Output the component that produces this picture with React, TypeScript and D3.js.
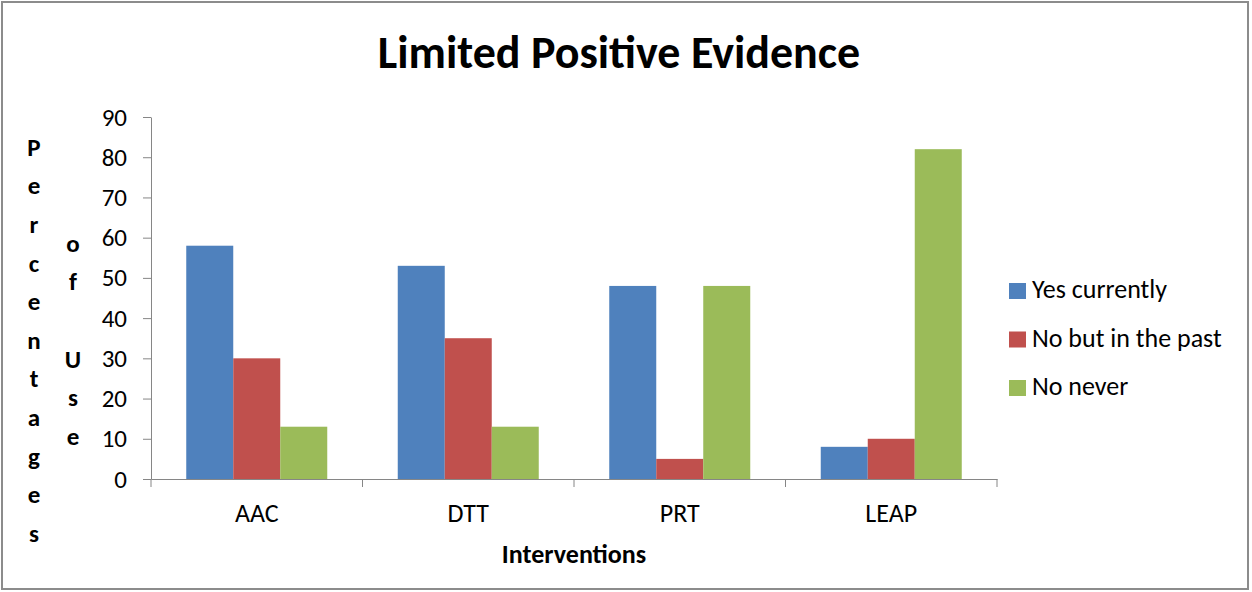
import { useEffect, useRef } from 'react';
import * as d3 from 'd3';

const categories = ['AAC', 'DTT', 'PRT', 'LEAP'];
const seriesNames = ['Yes currently', 'No but in the past', 'No never'];
const yesCurrently = [58, 53, 48, 8];
const noButPast = [30, 35, 5, 10];
const noNever = [13, 13, 48, 82];
const yTicks = [0, 10, 20, 30, 40, 50, 60, 70, 80, 90];
const colors = ['#4F81BD', '#C0504D', '#9BBB59'];

const FONT = "Carlito, Lato, 'Open Sans', sans-serif";

export default function App() {
  const svgRef = useRef<SVGSVGElement>(null);

  useEffect(() => {
    if (!svgRef.current) return;
    const svg = d3.select(svgRef.current);
    svg.selectAll('*').remove();

    const width = 1252;
    const height = 592;
    const margin = { left: 151, right: 255, top: 117, bottom: 112 };
    const plotW = width - margin.left - margin.right;

    // outer frame
    svg
      .append('rect')
      .attr('x', 2)
      .attr('y', 2)
      .attr('width', 1246)
      .attr('height', 587)
      .attr('fill', 'white')
      .attr('stroke', '#8c8c8c')
      .attr('stroke-width', 2);

    const x = d3
      .scaleBand()
      .domain(categories)
      .range([margin.left, margin.left + plotW]);
    const inner = d3
      .scaleBand()
      .domain(seriesNames)
      .range([0, x.bandwidth()])
      .paddingOuter(0.75);
    const y = d3
      .scaleLinear()
      .domain([0, 90])
      .range([height - margin.bottom - 1, margin.top]);

    const series = [yesCurrently, noButPast, noNever];

    // bars
    series.forEach((vals, si) => {
      svg
        .append('g')
        .selectAll('rect')
        .data(vals)
        .join('rect')
        .attr('x', (_d, i) => (x(categories[i]) as number) + (inner(seriesNames[si]) as number))
        .attr('y', (d) => y(d))
        .attr('width', inner.bandwidth())
        .attr('height', (d) => y(0) - y(d))
        .attr('fill', colors[si]);
    });

    // y axis
    const yAxis = svg
      .append('g')
      .attr('transform', `translate(${margin.left},0)`)
      .call(d3.axisLeft(y).tickValues(yTicks).tickSize(8).tickPadding(16).tickSizeOuter(0));
    yAxis.select('.domain').attr('stroke', '#868686');
    yAxis.selectAll('.tick line').attr('stroke', '#868686');
    yAxis
      .selectAll('.tick text')
      .attr('font-family', FONT)
      .attr('font-size', 25)
      .attr('fill', '#000');

    // x axis
    const xAxis = svg
      .append('g')
      .attr('transform', `translate(0,${y(0)})`)
      .call(d3.axisBottom(x).tickSize(0).tickPadding(25));
    xAxis.select('.domain').attr('stroke', '#868686');
    xAxis
      .selectAll('.tick text')
      .attr('font-family', FONT)
      .attr('font-size', 26)
      .attr('fill', '#000');
    // category boundary ticks
    const bounds = [...categories.map((c) => x(c) as number), margin.left + plotW];
    xAxis
      .selectAll('line.bound')
      .data(bounds)
      .join('line')
      .attr('class', 'bound')
      .attr('x1', (d) => d)
      .attr('x2', (d) => d)
      .attr('y1', 0)
      .attr('y2', 8)
      .attr('stroke', '#868686');

    // title
    svg
      .append('text')
      .attr('x', 619)
      .attr('y', 68)
      .attr('text-anchor', 'middle')
      .attr('font-family', FONT)
      .attr('font-weight', 'bold')
      .attr('font-size', 46)
      .text('Limited Positive Evidence');

    // x title
    svg
      .append('text')
      .attr('x', margin.left + plotW / 2)
      .attr('y', 563)
      .attr('text-anchor', 'middle')
      .attr('font-family', FONT)
      .attr('font-weight', 'bold')
      .attr('font-size', 26)
      .text('Interventions');

    // stacked y title
    const step = 38.6;
    const col1 = 'Percentages'.split('');
    const col2 = 'of Use'.split('');
    svg
      .append('g')
      .selectAll('text')
      .data(col1)
      .join('text')
      .attr('x', 34)
      .attr('y', (_d, i) => 147 + i * step)
      .attr('dy', '0.35em')
      .attr('text-anchor', 'middle')
      .attr('font-family', FONT)
      .attr('font-weight', 'bold')
      .attr('font-size', 25)
      .text((d) => d);
    svg
      .append('g')
      .selectAll('text')
      .data(col2)
      .join('text')
      .attr('x', 73)
      .attr('y', (_d, i) => 243 + i * step)
      .attr('dy', '0.35em')
      .attr('text-anchor', 'middle')
      .attr('font-family', FONT)
      .attr('font-weight', 'bold')
      .attr('font-size', 25)
      .text((d) => d);

    // legend
    const legend = svg
      .append('g')
      .selectAll('g')
      .data(seriesNames)
      .join('g')
      .attr('transform', (_d, i) => `translate(1009,${283 + i * 48.5})`);
    legend
      .append('rect')
      .attr('width', 17)
      .attr('height', 16)
      .attr('fill', (_d, i) => colors[i]);
    legend
      .append('text')
      .attr('x', 23)
      .attr('y', 15)
      .attr('font-family', FONT)
      .attr('font-size', 26)
      .text((d) => d);
  }, []);

  return (
    <div style={{ position: 'absolute', left: 0, top: 0 }}>
      <svg ref={svgRef} width={1252} height={592} style={{ display: 'block' }}></svg>
    </div>
  );
}
